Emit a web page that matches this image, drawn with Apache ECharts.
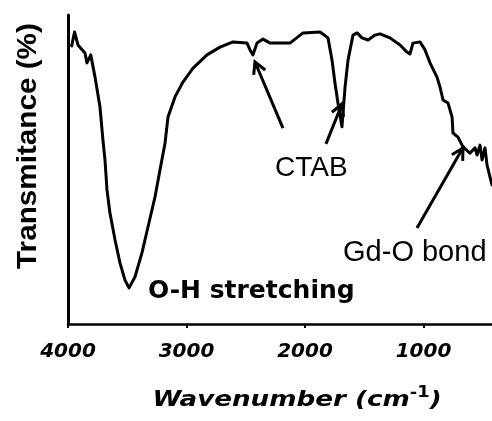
<!DOCTYPE html>
<html>
<head>
<meta charset="utf-8">
<script src="https://cdn.jsdelivr.net/npm/echarts@6/dist/echarts.min.js"></script>
<style>
  html, body { margin: 0; padding: 0; background: #ffffff; }
  #chart { width: 492px; height: 421px; }
</style>
</head>
<body>
<div id="chart"></div>
<script>
// FT-IR spectrum of the Gd2O3 / CTAB sample
const wavenumber = [
  3969, 3945, 3916, 3857, 3840, 3808, 3772, 3730, 3705, 3688,
  3671, 3646, 3603, 3561, 3519, 3485, 3435, 3376, 3325, 3266,
  3224, 3181, 3156, 3097, 3030, 2945, 2827, 2717, 2608, 2489,
  2464, 2439, 2405, 2354, 2295, 2127, 2017, 1873, 1806, 1772,
  1747, 1722, 1688, 1679, 1662, 1637, 1595, 1561, 1519, 1468,
  1409, 1367, 1283, 1198, 1139, 1114, 1089, 1030, 987, 945,
  886, 861, 835, 793, 759, 751, 709, 667, 608, 565,
  548, 523, 506, 481, 464, 439, 422
];
const transmittance = [
  90.0, 94.5, 90.3, 87.7, 84.5, 87.1, 79.9, 70.2, 59.5, 53.1,
  43.4, 35.9, 27.2, 19.7, 14.2, 11.7, 15.2, 23.0, 31.4, 41.1,
  49.8, 58.6, 67.0, 73.5, 78.3, 82.8, 87.1, 89.6, 91.3, 90.9,
  88.7, 87.1, 90.9, 92.2, 90.9, 90.9, 94.2, 94.5, 92.6, 85.4,
  78.0, 71.5, 63.8, 68.3, 76.7, 85.4, 93.5, 94.2, 92.6, 91.9,
  93.5, 93.9, 92.6, 90.3, 88.0, 87.4, 90.9, 91.3, 88.7, 84.5,
  79.9, 76.7, 72.5, 71.5, 67.0, 61.8, 60.5, 57.3, 55.3, 57.0,
  54.7, 57.9, 53.1, 57.0, 51.5, 47.6, 45.0
];
const xTickLabels = [4000, 3000, 2000, 1000];

// Band assignments: arrow tail -> arrow tip, in (wavenumber, transmittance)
const bandArrows = [
  [2186, 63.4, 2422, 84.8],
  [1823, 58.3, 1688, 71.2],
  [1055, 31.1, 667, 57.0]
];
// Band labels: text anchored at its left / middle point
const bandLabels = [
  { text: 'O-H stretching', w: 3325, v: 10.5, font: 'bold 25px "DejaVu Sans"' },
  { text: 'CTAB',           w: 2253, v: 50.5, font: '28px "Liberation Sans"' },
  { text: 'Gd-O bond',      w: 1679, v: 23.0, font: '29px "Liberation Sans"' }
];

const chart = echarts.init(document.getElementById('chart'), null, { renderer: 'canvas' });

const spectrum = wavenumber.map((w, i) => [w, transmittance[i]]);

chart.setOption({
  animation: false,
  backgroundColor: '#ffffff',
  grid: { left: 68, right: -50, top: 15, bottom: 97, containLabel: false, outerBoundsMode: 'none' },
  xAxis: {
    type: 'value',
    min: 0,
    max: 4000,
    interval: 1000,
    inverse: true,
    axisLine: { show: true, onZero: false, lineStyle: { color: '#000', width: 2.5 } },
    axisTick: { show: true, inside: false, length: 4, lineStyle: { color: '#000', width: 2 } },
    axisLabel: {
      color: '#000',
      fontFamily: 'DejaVu Sans',
      fontWeight: 'bold',
      fontStyle: 'italic',
      fontSize: 20,
      margin: 18,
      formatter: v => (xTickLabels.indexOf(v) >= 0 ? String(v) : '')
    },
    splitLine: { show: false }
  },
  yAxis: {
    type: 'value',
    min: 0,
    max: 100,
    axisLine: { show: true, onZero: false, lineStyle: { color: '#000', width: 3 } },
    axisTick: { show: false },
    axisLabel: { show: false },
    splitLine: { show: false }
  },
  series: [{
    type: 'line',
    data: spectrum,
    showSymbol: false,
    smooth: false,
    lineStyle: { color: '#000', width: 3, join: 'round', cap: 'round' }
  }]
});

// Annotation arrows and texts placed through the axis scales
const px = (w, v) => chart.convertToPixel({ gridIndex: 0 }, [w, v]);
const graphics = [];

bandArrows.forEach(a => {
  const t = px(a[0], a[1]);
  const h = px(a[2], a[3]);
  const ang = Math.atan2(t[1] - h[1], t[0] - h[0]);
  const len = 13, spread = 0.5;
  const w1 = [h[0] + len * Math.cos(ang + spread), h[1] + len * Math.sin(ang + spread)];
  const w2 = [h[0] + len * Math.cos(ang - spread), h[1] + len * Math.sin(ang - spread)];
  graphics.push({
    type: 'polyline',
    shape: { points: [t, h] },
    style: { stroke: '#000', lineWidth: 3, fill: null }
  });
  graphics.push({
    type: 'polyline',
    shape: { points: [w1, h, w2] },
    style: { stroke: '#000', lineWidth: 3, fill: null, lineJoin: 'miter' }
  });
});

bandLabels.forEach(l => {
  const p = px(l.w, l.v);
  graphics.push({
    type: 'text',
    x: p[0], y: p[1],
    style: {
      text: l.text, font: l.font, fill: '#000',
      align: 'left', verticalAlign: 'middle',
      textAlign: 'left', textVerticalAlign: 'middle'
    }
  });
});

// Axis titles
graphics.push({
  type: 'text',
  x: 28, y: 146,
  rotation: Math.PI / 2,
  scaleX: 1.06,
  style: {
    text: 'Transmitance (%)',
    font: 'bold 28px "Liberation Sans"',
    fill: '#000',
    align: 'center', verticalAlign: 'middle',
    textAlign: 'center', textVerticalAlign: 'middle'
  }
});
graphics.push({
  type: 'text',
  x: 297, y: 400,
  scaleX: 1.19,
  style: {
    text: '{a|Wavenumber (cm}{s|-1}{a|)}',
    fill: '#000',
    align: 'center', verticalAlign: 'middle',
    textAlign: 'center', textVerticalAlign: 'middle',
    rich: {
      a: { font: 'italic bold 22px "DejaVu Sans"', fill: '#000' },
      s: { font: 'bold 15px "DejaVu Sans"', fill: '#000', verticalAlign: 'top', padding: [0, 0, 14, 0] }
    }
  }
});

chart.setOption({ graphic: graphics });
</script>
</body>
</html>
